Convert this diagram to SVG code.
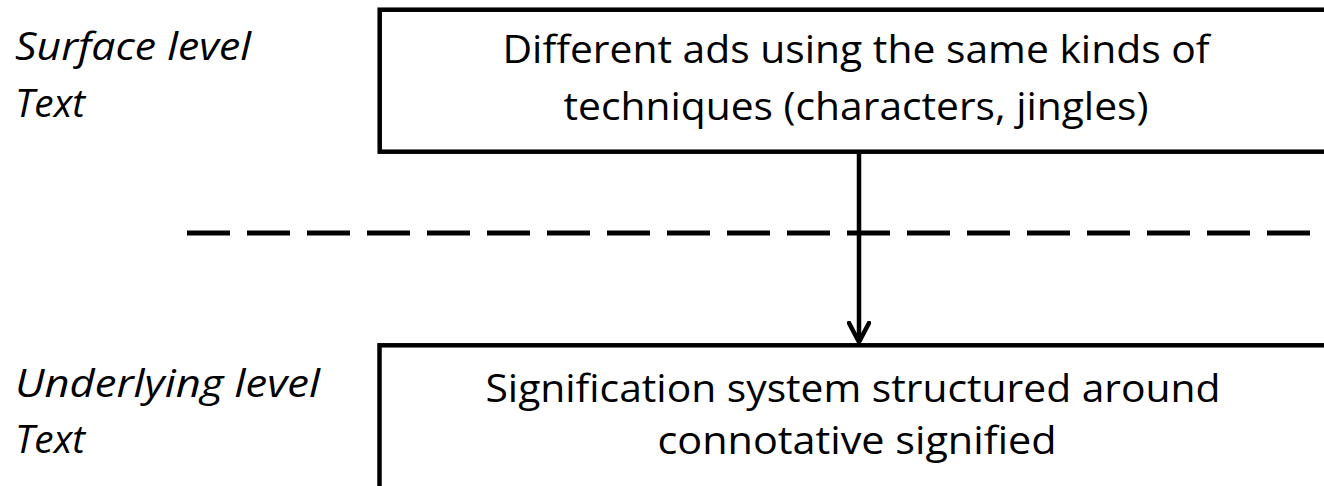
<svg xmlns="http://www.w3.org/2000/svg" width="1324" height="486" viewBox="0 0 1324 486">
  <defs>
    <style>
      .box { fill: #ffffff; stroke: #000000; stroke-width: 4.5; }
      .main { font-family: "Open Sans", "Noto Sans", "Liberation Sans", sans-serif; font-size: 39px; fill: #000000; text-anchor: middle; }
      .level { font-family: "Open Sans", "Noto Sans", "Liberation Sans", sans-serif; font-size: 39px; font-style: italic; fill: #000000; }
      .divider { stroke: #000000; stroke-width: 5; stroke-dasharray: 43 17; fill: none; }
      .link { stroke: #000000; stroke-width: 4.5; fill: none; }
    </style>
    <!-- open V arrowhead, drawn pointing along +x -->
    <marker id="arrowOpen" viewBox="0 0 24 24" markerUnits="userSpaceOnUse" markerWidth="24" markerHeight="24" refX="21" refY="12" orient="auto">
      <path d="M2 2 L21 12 L2 22" fill="none" stroke="#000000" stroke-width="4.5" stroke-linecap="round" stroke-linejoin="round"/>
    </marker>
  </defs>

  <rect width="1324" height="486" fill="#ffffff"/>

  <!-- level labels on the left -->
  <g id="label-surface">
    <text class="level" x="15" y="60" textLength="236" lengthAdjust="spacingAndGlyphs">Surface level</text>
    <text class="level" x="15" y="117" textLength="70" lengthAdjust="spacingAndGlyphs">Text</text>
  </g>
  <g id="label-underlying">
    <text class="level" x="15" y="397" textLength="305" lengthAdjust="spacingAndGlyphs">Underlying level</text>
    <text class="level" x="15" y="453" textLength="70" lengthAdjust="spacingAndGlyphs">Text</text>
  </g>

  <!-- dashed boundary between the two levels -->
  <line class="divider" x1="187" y1="233" x2="1330" y2="233"/>

  <!-- surface level box -->
  <g id="node-surface">
    <rect class="box" x="379.7" y="9.7" width="980" height="142"/>
    <text class="main" x="856" y="63" textLength="707" lengthAdjust="spacingAndGlyphs">Different ads using the same kinds of</text>
    <text class="main" x="856" y="120" textLength="585" lengthAdjust="spacingAndGlyphs">techniques (characters, jingles)</text>
  </g>

  <!-- underlying level box -->
  <g id="node-underlying">
    <rect class="box" x="379.5" y="345.3" width="980" height="200"/>
    <text class="main" x="853" y="402" textLength="735" lengthAdjust="spacingAndGlyphs">Signification system structured around</text>
    <text class="main" x="857" y="454" textLength="399" lengthAdjust="spacingAndGlyphs">connotative signified</text>
  </g>

  <!-- connector -->
  <g id="connectors">
    <line class="link" x1="859" y1="152" x2="859" y2="342" marker-end="url(#arrowOpen)"/>
  </g>
</svg>
